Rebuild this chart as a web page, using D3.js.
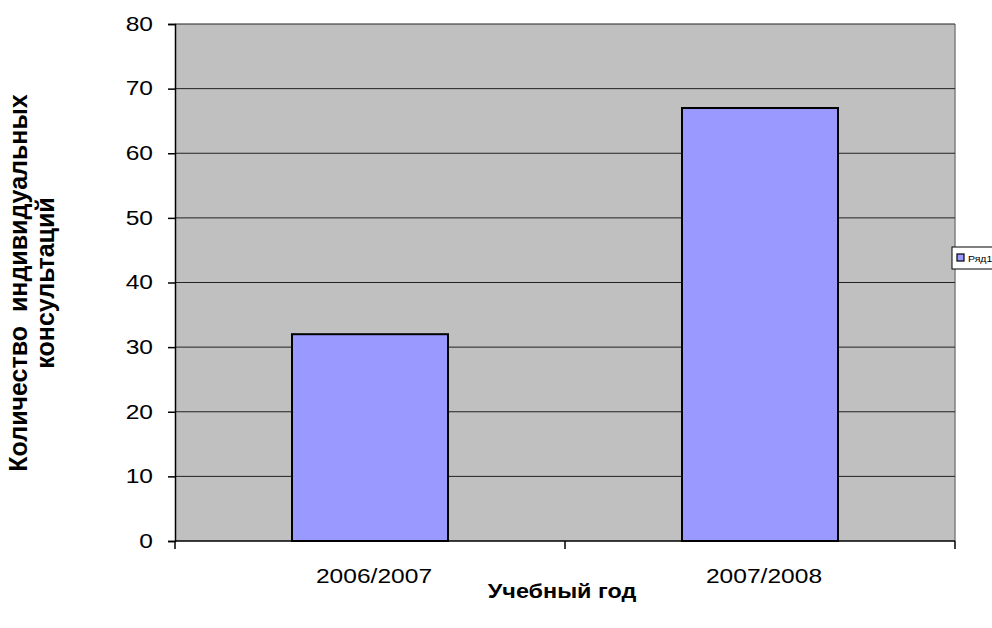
<!DOCTYPE html>
<html lang="ru">
<head>
<meta charset="UTF-8">
<title>Консультации</title>
<script src="https://cdn.jsdelivr.net/npm/d3@7"></script>
<style>
  body { margin: 0; background: #fff; }
  svg text { font-family: "Liberation Sans", Arial, sans-serif; fill: #000; }
</style>
</head>
<body>
<script>
// данные
var years = ["2006/2007", "2007/2008"];
var values = [32, 67];
var yTicks = [0, 10, 20, 30, 40, 50, 60, 70, 80];
var seriesName = "Ряд1";

var width = 992, height = 628;
var plot = {left: 175, right: 955, top: 24, bottom: 541};
var sx = 1.17; // текст в оригинале растянут по горизонтали

var svg = d3.select("body").append("svg")
  .attr("width", width)
  .attr("height", height);

var x = d3.scaleBand().domain(years)
  .range([plot.left, plot.right])
  .paddingInner(0.6).paddingOuter(0.3);

var y = d3.scaleLinear().domain([0, 80]).range([plot.bottom, plot.top]);

// фон области построения
svg.append("rect")
  .attr("x", plot.left).attr("y", plot.top)
  .attr("width", plot.right - plot.left)
  .attr("height", plot.bottom - plot.top)
  .attr("fill", "#c0c0c0");

svg.append("line")
  .attr("x1", plot.right).attr("x2", plot.right)
  .attr("y1", plot.top).attr("y2", plot.bottom)
  .attr("stroke", "#808080").attr("stroke-width", 1.5);

// сетка
svg.append("g").selectAll("line")
  .data(yTicks.filter(function(d){ return d > 0; }))
  .enter().append("line")
  .attr("x1", plot.left).attr("x2", plot.right)
  .attr("y1", function(d){ return y(d); })
  .attr("y2", function(d){ return y(d); })
  .attr("stroke", "#222").attr("stroke-width", 1);

// столбики
svg.append("g").selectAll("rect")
  .data(values)
  .enter().append("rect")
  .attr("x", function(d, i){ return x(years[i]); })
  .attr("y", function(d){ return y(d); })
  .attr("width", x.bandwidth())
  .attr("height", function(d){ return plot.bottom - y(d); })
  .attr("fill", "#9999ff")
  .attr("stroke", "#000").attr("stroke-width", 2);

// ось Y
var yAxis = svg.append("g")
  .attr("transform", "translate(" + plot.left + ",0)")
  .call(d3.axisLeft(y).tickValues(yTicks).tickSize(7));
yAxis.select(".domain").attr("stroke", "#000").attr("stroke-width", 1.5);
yAxis.selectAll(".tick line").attr("stroke", "#000").attr("stroke-width", 1.5);
yAxis.selectAll("text")
  .attr("x", -22 / sx)
  .attr("dy", "0.3em")
  .attr("transform", "scale(" + sx + ",1)")
  .style("font-size", "21px");

// ось X
var xEdges = d3.scalePoint().domain([0, 1, 2]).range([plot.left, plot.right]);
var xAxis = svg.append("g")
  .attr("transform", "translate(0," + plot.bottom + ")");
xAxis.append("line")
  .attr("x1", plot.left).attr("x2", plot.right)
  .attr("stroke", "#000").attr("stroke-width", 1.5);
xAxis.selectAll(".edge").data([0, 1, 2]).enter().append("line")
  .attr("x1", function(d){ return xEdges(d); })
  .attr("x2", function(d){ return xEdges(d); })
  .attr("y1", 0).attr("y2", 8)
  .attr("stroke", "#000").attr("stroke-width", 1.5);
xAxis.selectAll("text").data(years).enter().append("text")
  .attr("transform", function(d){
    return "translate(" + (x(d) + x.bandwidth() / 2 + 4) + ",42) scale(" + sx + ",1)";
  })
  .attr("text-anchor", "middle")
  .style("font-size", "21px")
  .text(function(d){ return d; });

// подписи осей
svg.append("text")
  .attr("transform", "translate(562,598) scale(" + sx + ",1)")
  .attr("text-anchor", "middle")
  .style("font-size", "20px").style("font-weight", "bold")
  .text("Учебный год");

var yText = svg.append("text")
  .attr("transform", "translate(0,283) rotate(-90)")
  .attr("text-anchor", "middle")
  .style("font-size", "25px").style("font-weight", "bold");
yText.append("tspan").attr("x", 0).attr("y", 27).attr("xml:space", "preserve").text("Количество  индивидуальных");
yText.append("tspan").attr("x", 0).attr("y", 54).text("консультаций");

// легенда
var legend = svg.append("g").attr("transform", "translate(952,247)");
legend.append("rect")
  .attr("width", 60).attr("height", 22)
  .attr("fill", "#fff").attr("stroke", "#000").attr("stroke-width", 1);
legend.append("rect")
  .attr("x", 5).attr("y", 7).attr("width", 7).attr("height", 7)
  .attr("fill", "#9999ff").attr("stroke", "#000").attr("stroke-width", 1.2);
legend.append("text")
  .attr("transform", "translate(16,14.5) scale(" + sx + ",1)")
  .style("font-size", "9px")
  .text(seriesName);
</script>
</body>
</html>
